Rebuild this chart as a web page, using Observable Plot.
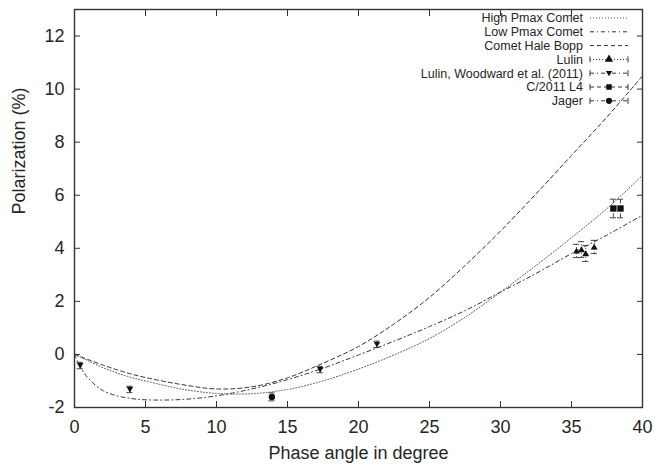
<!DOCTYPE html>
<html><head><meta charset="utf-8">
<script src="https://cdn.jsdelivr.net/npm/d3@7"></script>
<script src="https://cdn.jsdelivr.net/npm/@observablehq/plot@0.6"></script>
<style>
body{margin:0;background:#fff;}
#chart{position:relative;width:659px;height:465px;font-family:"Liberation Sans",Arial,sans-serif;}
#legend{position:absolute;left:0;top:0;pointer-events:none;}
</style></head><body><div id="chart"></div>
<script>
// ---- data ----
const angles    = [0, 0.5, 1, 2, 3, 4, 5, 7.5, 10, 12.5, 15, 17.5, 20, 22.5, 25, 27.5, 30, 32.5, 35, 37.5, 40];
const highPmax  = [0, -0.12, -0.25, -0.5, -0.7, -0.87, -1.0, -1.3, -1.47, -1.48, -1.32, -1.0, -0.55, -0.02, 0.6, 1.4, 2.35, 3.35, 4.4, 5.5, 6.75];
const lowPmax   = [0, -0.55, -0.92, -1.36, -1.56, -1.66, -1.71, -1.7, -1.56, -1.3, -0.95, -0.52, -0.02, 0.5, 1.05, 1.65, 2.35, 3.05, 3.8, 4.5, 5.25];
const haleBopp  = [0, -0.1, -0.2, -0.4, -0.58, -0.74, -0.87, -1.13, -1.3, -1.22, -0.88, -0.33, 0.3, 1.15, 2.15, 3.35, 4.65, 6.05, 7.5, 8.95, 10.5];

const lulinAngle = [35.35, 35.7, 36.0, 36.6];
const lulinPol   = [3.9, 3.95, 3.8, 4.05];
const lulinErr   = [0.25, 0.3, 0.3, 0.25];

const woodAngle = [0.4, 3.9, 17.3, 21.3];
const woodPol   = [-0.42, -1.32, -0.57, 0.38];
const woodErr   = [0.12, 0.12, 0.12, 0.12];

const l4Angle = [37.95, 38.45];
const l4Pol   = [5.5, 5.5];
const l4Err   = [0.35, 0.35];

const jagerAngle = [13.9];
const jagerPol   = [-1.6];
const jagerErr   = [0.15];

const xTicks = [0, 5, 10, 15, 20, 25, 30, 35, 40];
const yTicks = [-2, 0, 2, 4, 6, 8, 10, 12];
const xLabel = "Phase angle in degree";
const yLabel = "Polarization (%)";
const legendLabels = ["High Pmax Comet", "Low Pmax Comet", "Comet Hale Bopp", "Lulin", "Lulin, Woodward et al. (2011)", "C/2011 L4", "Jager"];

// ---- styles ----
const DOT = "1,2", DASHDOT = "4,3,1,3", DASH = "4,3";
const triangleDown = {draw(ctx, size) {const h = Math.sqrt(size) * 0.62; ctx.moveTo(0, h); ctx.lineTo(h * 1.05, -h * 0.8); ctx.lineTo(-h * 1.05, -h * 0.8); ctx.closePath();}};
const triangleUp = {draw(ctx, size) {const h = Math.sqrt(size) * 0.62; ctx.moveTo(0, -h); ctx.lineTo(h * 1.05, h * 0.8); ctx.lineTo(-h * 1.05, h * 0.8); ctx.closePath();}};

const curveRows = (ys) => angles.map((a, i) => ({a, p: ys[i]}));
const ptRows = (as, ps, es) => as.map((a, i) => ({a, p: ps[i], e: es[i]}));

const curves = [
  {rows: curveRows(highPmax), dash: DOT, stroke: "#555"},
  {rows: curveRows(lowPmax), dash: DASHDOT, stroke: "#333"},
  {rows: curveRows(haleBopp), dash: DASH, stroke: "#333"}
];
const points = [
  {rows: ptRows(lulinAngle, lulinPol, lulinErr), dash: DOT, symbol: triangleUp, r: 3.0},
  {rows: ptRows(woodAngle, woodPol, woodErr), dash: null, symbol: triangleDown, r: 2.8},
  {rows: ptRows(l4Angle, l4Pol, l4Err), dash: DASH, symbol: "square", r: 3.6},
  {rows: ptRows(jagerAngle, jagerPol, jagerErr), dash: DASHDOT, symbol: "circle", r: 3.2}
];

const capW = 0.22;
const marks = [];
for (const c of curves) {
  marks.push(Plot.line(c.rows, {x: "a", y: "p", curve: "catmull-rom", stroke: c.stroke, strokeWidth: 1, strokeDasharray: c.dash, clip: true}));
}
for (const s of points) {
  marks.push(Plot.ruleX(s.rows, {x: "a", y1: d => d.p - d.e, y2: d => d.p + d.e, stroke: "#333", strokeWidth: 0.9, strokeDasharray: s.dash}));
  marks.push(Plot.ruleY(s.rows, {y: d => d.p + d.e, x1: d => d.a - capW, x2: d => d.a + capW, stroke: "#333", strokeWidth: 0.9}));
  marks.push(Plot.ruleY(s.rows, {y: d => d.p - d.e, x1: d => d.a - capW, x2: d => d.a + capW, stroke: "#333", strokeWidth: 0.9}));
  marks.push(Plot.dot(s.rows, {x: "a", y: "p", symbol: () => s.symbol, r: s.r, fill: "#111", stroke: "none"}));
}
const fmt = d => String(d);
const axisStroke = "#333";
marks.push(
  Plot.axisX(xTicks, {anchor: "bottom", tickSize: 6, dy: -6, tickFormat: () => "", label: null, stroke: axisStroke, strokeWidth: 1}),
  Plot.axisX(xTicks, {anchor: "top", tickSize: 6, dy: 6, tickFormat: () => "", label: null, stroke: axisStroke, strokeWidth: 1}),
  Plot.axisY(yTicks, {anchor: "left", tickSize: 6, dx: 6, tickFormat: () => "", label: null, stroke: axisStroke, strokeWidth: 1}),
  Plot.axisY(yTicks, {anchor: "right", tickSize: 6, dx: -6, tickFormat: () => "", label: null, stroke: axisStroke, strokeWidth: 1}),
  Plot.axisX(xTicks, {anchor: "bottom", tickSize: 0, tickPadding: 13, tickFormat: fmt, label: null, fontSize: 18, fill: "#262626"}),
  Plot.axisY(yTicks, {anchor: "left", tickSize: 0, tickPadding: 10, tickFormat: fmt, label: null, fontSize: 18, fill: "#262626"}),
  Plot.text([xLabel], {frameAnchor: "bottom", dy: 46, text: d => d, fontSize: 18, fill: "#262626", lineAnchor: "middle"}),
  Plot.text([yLabel], {frameAnchor: "left", dx: -55, dy: 6, text: d => d, rotate: -90, fontSize: 18, fill: "#262626"}),
  Plot.frame({stroke: "#333", strokeWidth: 1.4})
);

const plot = Plot.plot({
  width: 659, height: 465,
  marginLeft: 74, marginRight: 17, marginTop: 9, marginBottom: 58,
  x: {domain: [0, 40]},
  y: {domain: [-2, 13]},
  style: {fontFamily: '"Liberation Sans", Arial, sans-serif', background: "#fff", color: "#262626"},
  marks
});
document.getElementById("chart").appendChild(plot);

// ---- legend (inside the frame, top right) ----
const legendStyles = [
  {dash: DOT, stroke: "#555"},
  {dash: DASHDOT, stroke: "#333"},
  {dash: DASH, stroke: "#333"},
  {dash: DOT, stroke: "#333", symbol: d3.symbolTriangle, pt: true},
  {dash: DASHDOT, stroke: "#333", symbol: "down", pt: true},
  {dash: DASH, stroke: "#333", symbol: d3.symbolSquare, pt: true},
  {dash: DASHDOT, stroke: "#333", symbol: d3.symbolCircle, pt: true}
];
const svg = d3.select("#chart").append("svg").attr("id", "legend").attr("width", 659).attr("height", 465);
const textRight = 583, sx1 = 590, sx2 = 628, row0 = 18, step = 13.8;
legendLabels.forEach((lab, i) => {
  const y = row0 + i * step, st = legendStyles[i];
  svg.append("text").attr("x", textRight).attr("y", y).attr("dy", "0.35em").attr("text-anchor", "end")
    .attr("font-size", 12.5).attr("fill", "#262626").attr("font-family", '"Liberation Sans", Arial, sans-serif').text(lab);
  svg.append("line").attr("x1", sx1).attr("x2", sx2).attr("y1", y).attr("y2", y)
    .attr("stroke", st.stroke).attr("stroke-width", 1).attr("stroke-dasharray", st.dash);
  if (st.pt) {
    for (const cx of [sx1, sx2]) svg.append("line").attr("x1", cx).attr("x2", cx).attr("y1", y - 3).attr("y2", y + 3).attr("stroke", "#333");
    const cx = (sx1 + sx2) / 2;
    if (st.symbol === "down") {
      svg.append("path").attr("d", `M${cx},${y + 3}L${cx + 3.2},${y - 2.3}L${cx - 3.2},${y - 2.3}Z`).attr("fill", "#111");
    } else {
      svg.append("path").attr("d", d3.symbol(st.symbol, 30)()).attr("transform", `translate(${cx},${y})`).attr("fill", "#111");
    }
  }
});
</script></body></html>
